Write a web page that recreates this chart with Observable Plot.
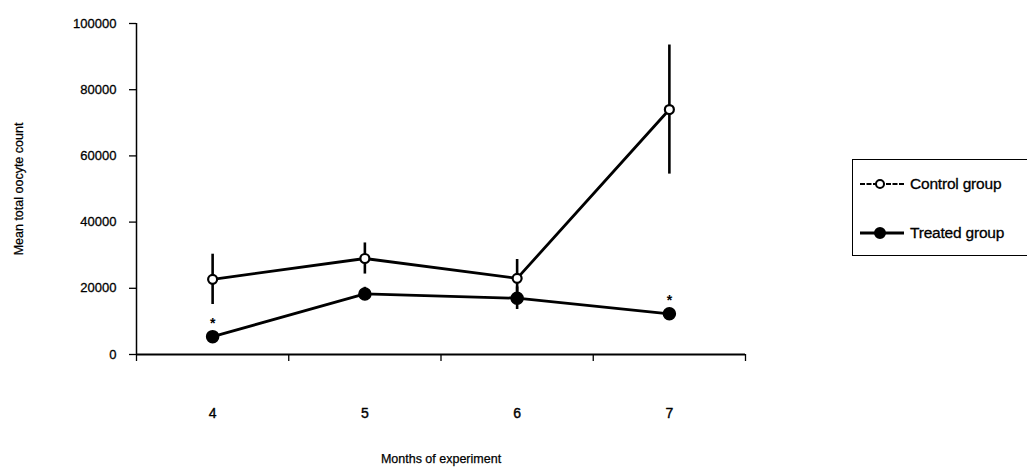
<!DOCTYPE html>
<html>
<head>
<meta charset="utf-8">
<script src="https://cdn.jsdelivr.net/npm/d3@7"></script>
<script src="https://cdn.jsdelivr.net/npm/@observablehq/plot@0.6"></script>
<style>
  html, body { margin: 0; padding: 0; background: #fff; }
  #wrap { position: relative; width: 1027px; height: 473px; overflow: hidden; font-family: "Liberation Sans", Arial, sans-serif; }
  #legend { position: absolute; left: 852px; top: 159px; width: 200px; height: 97px; border: 1.5px solid #000; box-sizing: border-box; background: #fff; }
  .row { position: absolute; left: 0; height: 22px; display: flex; align-items: center; font-size: 15.5px; color: #000; -webkit-text-stroke: 0.3px #000; letter-spacing: -0.2px; }
  .row svg { margin-left: 5px; margin-right: 4px; }
</style>
</head>
<body>
<div id="wrap">
  <div id="chart"></div>
  <div id="legend"></div>
</div>
<script>
// ---- data ----
const months = [4, 5, 6, 7];
const controlMean = [22700, 29000, 23000, 74000];
const controlErr  = [7600, 4700, 5700, 19500];
const treatedMean = [5400, 18300, 17000, 12300];
const treatedErr  = [1200, 2000, 3400, 1300];
const significant = [true, false, false, true];   // "*" above treated group
const yTicks = [0, 20000, 40000, 60000, 80000, 100000];
const xBoundaries = [3.5, 4.5, 5.5, 6.5, 7.5];
const seriesNames = ["Control group", "Treated group"];

const control = months.map((m, i) => ({month: m, mean: controlMean[i], lo: controlMean[i] - controlErr[i], hi: controlMean[i] + controlErr[i]}));
const treated = months.map((m, i) => ({month: m, mean: treatedMean[i], lo: treatedMean[i] - treatedErr[i], hi: treatedMean[i] + treatedErr[i], sig: significant[i]}));

const txt = {stroke: "#000", strokeWidth: 0.25, fill: "#000"};

const chart = Plot.plot({
  width: 1027,
  height: 473,
  marginLeft: 136,
  marginRight: 282,
  marginTop: 23,
  marginBottom: 119,
  style: {fontFamily: "'Liberation Sans', Arial, sans-serif", fontSize: "13px", color: "#000", background: "transparent"},
  x: {domain: [3.5, 7.5], axis: null},
  y: {domain: [0, 100000], axis: null},
  marks: [
    Plot.axisY({ticks: yTicks, tickSize: 7, tickPadding: 13, tickFormat: d => String(d), label: null, stroke: "#000", strokeWidth: 1.3, fontSize: 13, textStroke: "#000", textStrokeWidth: 0.3}),
    Plot.axisX({ticks: xBoundaries, tickSize: 7, tickFormat: () => "", label: null, stroke: "#000", strokeWidth: 1.3}),
    Plot.axisX({ticks: months, tickSize: 0, tickPadding: 54, tickFormat: d => String(d), label: null, fontSize: 14, textStroke: "#000", textStrokeWidth: 0.4}),
    Plot.ruleX([3.5], {y1: 0, y2: 100000, stroke: "#000", strokeWidth: 1.5}),
    Plot.ruleY([0], {x1: 3.5, x2: 7.5, stroke: "#000", strokeWidth: 2}),
    Plot.text(["Months of experiment"], {frameAnchor: "bottom", dy: 108, fontSize: 12.5, ...txt}),
    Plot.text(["Mean total oocyte count"], {frameAnchor: "left", dx: -118, rotate: -90, textAnchor: "middle", fontSize: 12.5, ...txt}),
    // error bars
    Plot.ruleX(control, {x: "month", y1: "lo", y2: "hi", stroke: "#000", strokeWidth: 2.6}),
    Plot.ruleX(treated, {x: "month", y1: "lo", y2: "hi", stroke: "#000", strokeWidth: 2.6}),
    // lines
    Plot.line(control, {x: "month", y: "mean", stroke: "#000", strokeWidth: 2.8}),
    Plot.line(treated, {x: "month", y: "mean", stroke: "#000", strokeWidth: 2.8}),
    // markers
    Plot.dot(control, {x: "month", y: "mean", r: 4.5, fill: "#fff", stroke: "#000", strokeWidth: 2.2}),
    Plot.dot(treated, {x: "month", y: "mean", r: 6, fill: "#000", stroke: "#000"}),
    // significance stars
    Plot.text(treated.filter(d => d.sig), {x: "month", y: "mean", text: () => "*", dy: -13, fontSize: 14, fontWeight: "bold"})
  ]
});
document.getElementById("chart").appendChild(chart);

// legend
const legend = document.getElementById("legend");
seriesNames.forEach((name, i) => {
  const row = document.createElement("div");
  row.className = "row";
  row.style.top = (i === 0 ? 13 : 62) + "px";
  const s = d3.create("svg").attr("width", 48).attr("height", 14);
  s.append("line").attr("x1", 2).attr("x2", 46).attr("y1", 7).attr("y2", 7).attr("stroke", "#000")
    .attr("stroke-width", i === 0 ? 2.2 : 2.8).attr("stroke-dasharray", i === 0 ? "5,1.5" : null);
  s.append("circle").attr("cx", 22).attr("cy", 7).attr("r", i === 0 ? 4 : 5).attr("fill", i === 0 ? "#fff" : "#000").attr("stroke", "#000").attr("stroke-width", 2);
  row.appendChild(s.node());
  const t = document.createElement("span");
  t.textContent = name;
  row.appendChild(t);
  legend.appendChild(row);
});
</script>
</body>
</html>
